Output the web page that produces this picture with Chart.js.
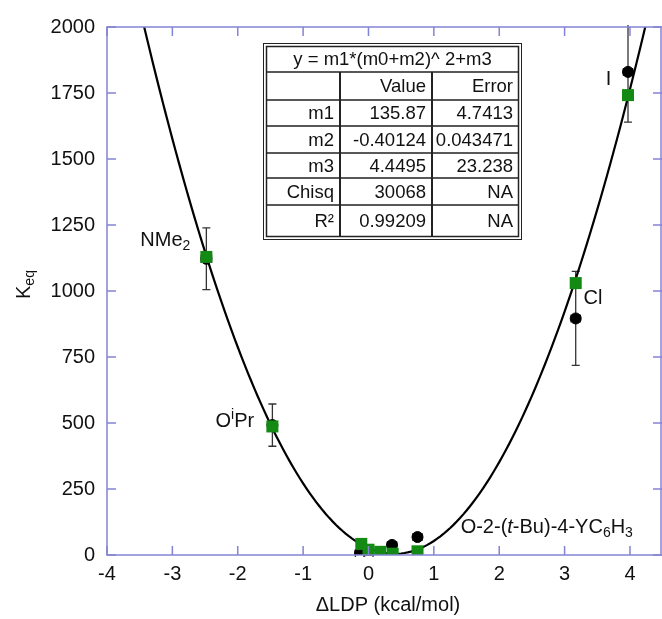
<!DOCTYPE html>
<html>
<head>
<meta charset="utf-8">
<script src="https://cdn.jsdelivr.net/npm/chart.js@4.4.0/dist/chart.umd.min.js"></script>
<style>
  html, body { margin: 0; padding: 0; background: #fff; overflow: hidden; }
  #wrap { width: 662px; height: 619px; }
  canvas { display: block; }
</style>
</head>
<body>
<div id="wrap"><canvas id="fitChart" width="662" height="619"></canvas></div>
<script>
// green squares (fit input)
const greenX = [-2.48, -1.47, -0.11, 0.0, 0.18, 0.37, 0.75, 3.17, 3.97];
const greenY = [1129, 487, 42, 20, 12, 5, 14, 1030, 1742];
// black circles (measured, with error bars)
const blackX = [-2.48, -1.47, -0.13, 0.0, 0.36, 0.75, 3.17, 3.97];
const blackY = [1122, 492, 8, 0, 38, 68, 896, 1830];
const blackXErr = [0.08, 0.07, 0.07, 0.07, 0.07, 0.07, 0.07, 0.07];
const blackYErr = [117, 80, 0, 0, 0, 0, 178, 190];

// fit results y = m1*(m0+m2)^2+m3
const fitM1 = 135.87;
const fitM2 = -0.40124;
const fitM3 = 4.4495;
const tableRows = [
  ['', 'Value', 'Error'],
  ['m1', '135.87', '4.7413'],
  ['m2', '-0.40124', '0.043471'],
  ['m3', '4.4495', '23.238'],
  ['Chisq', '30068', 'NA'],
  ['R\u00B2', '0.99209', 'NA']
];

const xTicks = [-4, -3, -2, -1, 0, 1, 2, 3, 4];
const yTicks = [0, 250, 500, 750, 1000, 1250, 1500, 1750, 2000];

const labels = [
  { x: -3.49, y: 1193, parts: [['NMe', 0], ['2', 1]] },
  { x: -2.34, y: 504, parts: [['O', 0], ['i', -1], ['Pr', 0]] },
  { x: 3.29, y: 973, parts: [['Cl', 0]] },
  { x: 3.63, y: 1800, parts: [['I', 0]] },
  { x: 1.41, y: 106, parts: [['O-2-(', 0], ['t', 2], ['-Bu)-4-YC', 0], ['6', 1], ['H', 0], ['3', 1]] }
];

// fit curve evaluated from the table parameters
const curve = [];
for (let i = 0; i <= 170; i++) {
  const x = -4 + i * 0.05;
  curve.push({ x: x, y: fitM1 * Math.pow(x + fitM2, 2) + fitM3 });
}

const FONT = '"Liberation Sans", Arial, sans-serif';
const AXIS_COLOR = '#8484d4';

function drawRich(ctx, parts, x, y, size) {
  let cx = x;
  parts.forEach(p => {
    const [t, kind] = p;
    let fs = size, dy = 0, style = '';
    if (kind === 1) { fs = size * 0.7; dy = size * 0.3; }
    if (kind === -1) { fs = size * 0.7; dy = -size * 0.35; }
    if (kind === 2) { style = 'italic '; }
    ctx.font = style + fs + 'px ' + FONT;
    ctx.fillText(t, cx, y + dy);
    cx += ctx.measureText(t).width;
  });
}

const decorPlugin = {
  id: 'decor',
  beforeDatasetsDraw(chart) {
    const ctx = chart.ctx;
    const xs = chart.scales.x, ys = chart.scales.y;
    const a = chart.chartArea;
    ctx.save();
    ctx.beginPath();
    ctx.rect(a.left, a.top - 2, a.right - a.left, a.bottom - a.top + 4);
    ctx.clip();
    ctx.strokeStyle = '#333';
    ctx.lineWidth = 1.3;
    blackX.forEach((bx, i) => {
      const px = xs.getPixelForValue(bx), py = ys.getPixelForValue(blackY[i]);
      const ex = blackXErr[i], ey = blackYErr[i];
      if (ex) {
        const l = xs.getPixelForValue(bx - ex), r = xs.getPixelForValue(bx + ex);
        ctx.beginPath();
        ctx.moveTo(l, py); ctx.lineTo(r, py);
        ctx.moveTo(l, py - 4); ctx.lineTo(l, py + 4);
        ctx.moveTo(r, py - 4); ctx.lineTo(r, py + 4);
        ctx.stroke();
      }
      if (ey) {
        const t = ys.getPixelForValue(blackY[i] + ey), b = ys.getPixelForValue(blackY[i] - ey);
        ctx.beginPath();
        ctx.moveTo(px, t); ctx.lineTo(px, b);
        ctx.moveTo(px - 4, t); ctx.lineTo(px + 4, t);
        ctx.moveTo(px - 4, b); ctx.lineTo(px + 4, b);
        ctx.stroke();
      }
    });
    ctx.restore();
  },
  afterDraw(chart) {
    const ctx = chart.ctx;
    const xs = chart.scales.x, ys = chart.scales.y;
    const a = chart.chartArea;
    ctx.save();
    // frame and inward ticks
    ctx.strokeStyle = AXIS_COLOR;
    ctx.lineWidth = 1.5;
    ctx.strokeRect(a.left, a.top, a.right - a.left - 1, a.bottom - a.top);
    ctx.beginPath();
    xTicks.forEach(v => {
      const p = xs.getPixelForValue(v);
      ctx.moveTo(p, a.bottom); ctx.lineTo(p, a.bottom - 9);
      ctx.moveTo(p, a.top); ctx.lineTo(p, a.top + 9);
    });
    yTicks.forEach(v => {
      const p = ys.getPixelForValue(v);
      ctx.moveTo(a.left, p); ctx.lineTo(a.left + 9, p);
      ctx.moveTo(a.right, p); ctx.lineTo(a.right - 9, p);
    });
    ctx.stroke();

    // x tick labels
    ctx.fillStyle = '#111';
    ctx.font = '20px ' + FONT;
    ctx.textAlign = 'center';
    ctx.textBaseline = 'top';
    xTicks.forEach(v => {
      ctx.fillText(String(v), xs.getPixelForValue(v), a.bottom + 9);
    });

    // point labels
    ctx.textBaseline = 'middle';
    ctx.textAlign = 'left';
    labels.forEach(l => {
      drawRich(ctx, l.parts, xs.getPixelForValue(l.x), ys.getPixelForValue(l.y), 20);
    });

    // axis titles
    ctx.font = '20px ' + FONT;
    ctx.textAlign = 'center';
    ctx.fillText('\u0394LDP (kcal/mol)', 388, 605);
    ctx.save();
    ctx.translate(24, 283);
    ctx.rotate(-Math.PI / 2);
    ctx.textAlign = 'left';
    drawRich(ctx, [['K', 0], ['eq', 1]], -16, 0, 20);
    ctx.restore();

    // fit table
    const tl = 263, tr = 522, tt = 43, tb = 240;
    const cols = [tl, 340, 432, tr];
    const rows = [72, 100, 126, 153, 178, 205, tb - 3];
    ctx.fillStyle = '#fff';
    ctx.fillRect(tl, tt, tr - tl, tb - tt);
    ctx.strokeStyle = '#222';
    ctx.lineWidth = 1;
    ctx.strokeRect(tl + 0.5, tt + 0.5, tr - tl - 1, tb - tt - 1);
    ctx.lineWidth = 1.5;
    ctx.strokeRect(tl + 3.5, tt + 3.5, tr - tl - 7, tb - tt - 7);
    ctx.beginPath();
    rows.slice(0, -1).forEach(r => { ctx.moveTo(tl + 3, r); ctx.lineTo(tr - 3, r); });
    ctx.stroke();
    ctx.lineWidth = 2;
    ctx.beginPath();
    [cols[1], cols[2]].forEach(c => { ctx.moveTo(c, rows[0]); ctx.lineTo(c, tb - 3); });
    ctx.stroke();
    ctx.fillStyle = '#111';
    ctx.font = '18.5px ' + FONT;
    ctx.textAlign = 'center';
    ctx.fillText('y = m1*(m0+m2)^ 2+m3', (tl + tr) / 2, (tt + rows[0]) / 2 + 2);
    ctx.textAlign = 'right';
    tableRows.forEach((row, i) => {
      const cy = (rows[i] + rows[i + 1]) / 2 + 1;
      row.forEach((txt, j) => {
        ctx.fillText(txt, cols[j + 1] - (j === 2 ? 9 : 6), cy);
      });
    });
    ctx.restore();
  }
};

new Chart(document.getElementById('fitChart'), {
  type: 'scatter',
  data: {
    datasets: [
      {
        label: 'fit',
        data: curve,
        showLine: true,
        borderColor: '#000',
        borderWidth: 2.2,
        pointRadius: 0,
        order: 3
      },
      {
        label: 'measured',
        data: blackX.map((x, i) => ({ x: x, y: blackY[i] })),
        pointStyle: 'circle',
        pointRadius: 5.5,
        backgroundColor: '#000',
        borderColor: '#000',
        order: 2
      },
      {
        label: 'fitted',
        data: greenX.map((x, i) => ({ x: x, y: greenY[i] })),
        pointStyle: 'rect',
        pointRadius: 8.5,
        backgroundColor: '#138a13',
        borderColor: '#138a13',
        borderWidth: 0,
        order: 1
      }
    ]
  },
  options: {
    responsive: false,
    animation: false,
    devicePixelRatio: 1,
    layout: { autoPadding: false, padding: { top: 27, right: 0, left: 0, bottom: 0 } },
    plugins: { legend: { display: false }, tooltip: { enabled: false } },
    scales: {
      x: {
        type: 'linear',
        min: -4,
        max: 4.49,
        afterBuildTicks: s => { s.ticks = xTicks.map(v => ({ value: v })); },
        afterFit: s => { s.height = 64; },
        grid: { display: false, drawTicks: false },
        border: { display: false },
        ticks: { display: false }
      },
      y: {
        min: 0,
        max: 2000,
        afterBuildTicks: s => { s.ticks = yTicks.map(v => ({ value: v })); },
        afterFit: s => { s.width = 107; s.paddingTop = 0; s.paddingBottom = 0; },
        grid: { display: false, drawTicks: false },
        border: { display: false },
        ticks: { color: '#111', font: { size: 20, family: FONT }, padding: 12, autoSkip: false, callback: v => String(v) }
      }
    }
  },
  plugins: [decorPlugin]
});
</script>
</body>
</html>
